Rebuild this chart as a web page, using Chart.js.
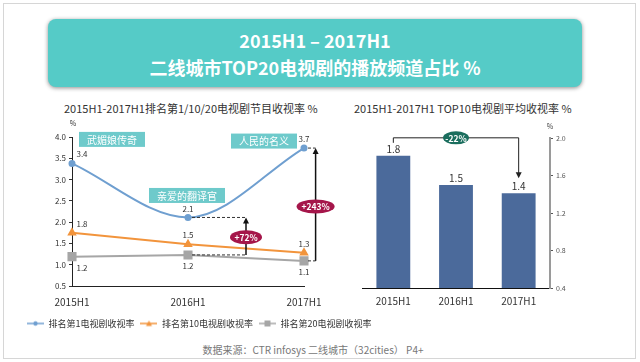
<!DOCTYPE html>
<html>
<head>
<meta charset="utf-8">
<script src="https://cdn.jsdelivr.net/npm/chart.js@4.4.0/dist/chart.umd.min.js"></script>
<style>
  body { margin: 0; width: 640px; height: 362px; background: #fff; overflow: hidden; position: relative;
         font-family: "Noto Sans CJK SC", "Noto Sans", sans-serif; }
  .frame { position: absolute; left: 3px; top: 3px; width: 631px; height: 354px; border: 1px solid #d6d6d6; }
  .banner { position: absolute; left: 48px; top: 19px; width: 534px; height: 68px; background: #55cbc7;
            border-radius: 8px; box-shadow: 0 1px 4px rgba(0,0,0,.45); color: #fff; font-weight: bold;
            font-size: 18px; line-height: 27px; text-align: center; padding-top: 8px; box-sizing: border-box; }
  .title { position: absolute; font-size: 11px; color: #333; white-space: nowrap; }
  .source { position: absolute; left: 0; width: 626px; top: 342px; text-align: center; font-size: 10px; color: #777; }
  canvas { position: absolute; }
</style>
</head>
<body>
<div class="frame"></div>
<div class="banner">2015H1 – 2017H1<br>二线城市TOP20电视剧的播放频道占比 %</div>
<div class="title" style="left:64px;top:100px">2015H1-2017H1排名第1/10/20电视剧节目收视率 %</div>
<div class="title" style="left:354px;top:100px">2015H1-2017H1 TOP10电视剧平均收视率 %</div>
<div class="source">数据来源：CTR infosys 二线城市（32cities） P4+</div>
<canvas id="lineChart" width="400" height="228" style="left:0;top:112px"></canvas>
<canvas id="barChart" width="300" height="200" style="left:340px;top:112px"></canvas>
<script>
const periods = ["2015H1", "2016H1", "2017H1"];
const top1Rating = [3.38, 2.11, 3.74];
const top10Rating = [1.75, 1.48, 1.28];
const top20Rating = [1.19, 1.23, 1.09];
const seriesNames = ["排名第1电视剧收视率", "排名第10电视剧收视率", "排名第20电视剧收视率"];
const dramaNames = ["武媚娘传奇", "亲爱的翻译官", "人民的名义"];
const growthLabels = ["+72%", "+243%"];
const top10Average = [1.81, 1.5, 1.41];
const averageChange = "-22%";

const FONT = '"Noto Sans CJK SC", "Noto Sans", sans-serif';
const colors = ["#6f9fd0", "#f2943c", "#a6a6a6"];

function legendIcon(color, style) {
    const c = document.createElement("canvas");
    c.width = 17;
    c.height = 8;
    const g = c.getContext("2d");
    g.strokeStyle = color;
    g.fillStyle = color;
    g.lineWidth = 1.5;
    g.beginPath();
    g.moveTo(0, 4);
    g.lineTo(17, 4);
    g.stroke();
    g.beginPath();
    if (style === "circle") g.arc(8.5, 4, 2.2, 0, Math.PI * 2);
    else if (style === "triangle") { g.moveTo(8.5, 1); g.lineTo(11.5, 6.5); g.lineTo(5.5, 6.5); g.closePath(); }
    else g.rect(5.5, 1, 6, 6);
    g.fill();
    return c;
}
const legendIcons = [
    legendIcon(colors[0], "circle"),
    legendIcon(colors[1], "triangle"),
    legendIcon(colors[2], "rect"),
];

function ellipseLabel(ctx, cx, cy, rx, ry, fill, text) {
    ctx.save();
    ctx.fillStyle = fill;
    ctx.beginPath();
    ctx.ellipse(cx, cy, rx, ry, 0, 0, Math.PI * 2);
    ctx.fill();
    ctx.fillStyle = "#fff";
    ctx.font = "bold 8.5px " + FONT;
    ctx.textAlign = "center";
    ctx.textBaseline = "middle";
    ctx.fillText(text, cx, cy + 0.5);
    ctx.restore();
}

function arrowUp(ctx, x, y0, y1) {
    ctx.save();
    ctx.strokeStyle = "#111";
    ctx.fillStyle = "#111";
    ctx.lineWidth = 1.5;
    ctx.beginPath();
    ctx.moveTo(x, y0);
    ctx.lineTo(x, y1 + 4);
    ctx.stroke();
    ctx.beginPath();
    ctx.moveTo(x, y1);
    ctx.lineTo(x + 3, y1 + 6);
    ctx.lineTo(x - 3, y1 + 6);
    ctx.closePath();
    ctx.fill();
    ctx.restore();
}

const lineAnnotations = {
    id: "lineAnnotations",
    afterDatasetsDraw(chart) {
        const { ctx, scales: { x, y } } = chart;
        const pts = [0, 1, 2].map((i) => chart.getDatasetMeta(i).data);
        const series = [top1Rating, top10Rating, top20Rating];
        ctx.save();

        // value labels
        ctx.font = "8px " + FONT;
        ctx.fillStyle = "#333";
        ctx.textAlign = "center";
        ctx.textBaseline = "middle";
        series.forEach((vals, s) => {
            vals.forEach((v, i) => {
                const p = pts[s][i];
                const dx = i === 0 ? 10 : 0;
                const dy = s === 2 ? 11 : -9;
                ctx.fillText(v.toFixed(1), p.x + dx, p.y + dy);
            });
        });

        // drama name boxes on the top series
        const boxOffsets = [[40, -24], [-1, -22], [-40, -7]];
        ctx.font = "10px " + FONT;
        dramaNames.forEach((name, i) => {
            const p = pts[0][i];
            const w = ctx.measureText(name).width + 16;
            const cx = p.x + boxOffsets[i][0];
            const cy = p.y + boxOffsets[i][1];
            ctx.fillStyle = "#6ecacb";
            ctx.fillRect(cx - w / 2, cy - 7.5, w, 15);
            ctx.fillStyle = "#fff";
            ctx.fillText(name, cx, cy + 0.5);
        });

        // dashed guides
        const xa = x.getPixelForValue(1.5);
        const xb = x.getPixelForValue(2.1);
        ctx.strokeStyle = "#333";
        ctx.lineWidth = 1;
        ctx.setLineDash([3, 2]);
        [[pts[0][1], xa], [pts[2][1], xa], [pts[0][2], xb], [pts[2][2], xb]].forEach(([p, xe]) => {
            ctx.beginPath();
            ctx.moveTo(p.x + 4, p.y);
            ctx.lineTo(xe, p.y);
            ctx.stroke();
        });
        ctx.setLineDash([]);

        arrowUp(ctx, xa, pts[2][1].y, pts[0][1].y);
        arrowUp(ctx, xb, pts[2][2].y, pts[0][2].y);
        ellipseLabel(ctx, xa, (pts[2][1].y + pts[0][1].y) / 2 + 1, 16, 7, "#a5164a", growthLabels[0]);
        ellipseLabel(ctx, xb, (pts[2][2].y + pts[0][2].y) / 2 + 2, 19, 7, "#a5164a", growthLabels[1]);

        // unit
        ctx.font = "7px " + FONT;
        ctx.fillStyle = "#333";
        ctx.fillText("%", y.right + 1, y.top - 14);
        ctx.restore();
    },
};

new Chart(document.getElementById("lineChart"), {
    type: "line",
    data: {
        labels: periods,
        datasets: [
            {
                label: seriesNames[0],
                data: top1Rating,
                borderColor: colors[0],
                backgroundColor: colors[0],
                borderWidth: 2,
                pointStyle: "circle",
                pointRadius: 2.5,
                cubicInterpolationMode: "monotone",
                clip: false,
            },
            {
                label: seriesNames[1],
                data: top10Rating,
                borderColor: colors[1],
                backgroundColor: colors[1],
                borderWidth: 2,
                pointStyle: "triangle",
                pointRadius: 3.5,
                tension: 0,
                clip: false,
            },
            {
                label: seriesNames[2],
                data: top20Rating,
                borderColor: colors[2],
                backgroundColor: colors[2],
                borderWidth: 2,
                pointStyle: "rect",
                pointRadius: 5,
                tension: 0,
                clip: false,
            },
        ],
    },
    options: {
        responsive: false,
        animation: false,
        layout: { padding: { left: 21, right: 0, top: 25, bottom: 2 } },
        scales: {
            x: {
                offset: false,
                grid: { display: false, drawTicks: false },
                border: { display: true, color: "#222", width: 1 },
                ticks: { color: "#333", font: { size: 10, family: FONT }, padding: 10, maxRotation: 0 },
                afterFit: (scale) => { scale.height = 27; },
            },
            y: {
                min: 0.5,
                max: 4.0,
                ticks: {
                    stepSize: 0.5,
                    color: "#333",
                    padding: 3,
                    font: { size: 8, family: FONT },
                    callback: (v) => v.toFixed(1),
                },
                grid: { drawOnChartArea: false, tickLength: 3, color: "#333" },
                border: { display: true, color: "#222", width: 1 },
                afterFit: (scale) => { scale.width = 51; },
            },
            // empty right-hand axis that only reserves room for the growth arrows
            room: {
                position: "right",
                grid: { display: false },
                border: { display: false },
                ticks: { display: false },
                afterFit: (scale) => { scale.width = 96; },
            },
        },
        plugins: {
            tooltip: { enabled: false },
            legend: {
                position: "bottom",
                align: "start",
                labels: {
                    usePointStyle: true,
                    pointStyleWidth: 17,
                    padding: 6,
                    color: "#333",
                    font: { size: 9, family: FONT },
                    generateLabels: (chart) =>
                        Chart.defaults.plugins.legend.labels.generateLabels(chart).map((item, i) => {
                            item.pointStyle = legendIcons[i];
                            return item;
                        }),
                },
            },
        },
    },
    plugins: [lineAnnotations],
});

const barAnnotations = {
    id: "barAnnotations",
    afterDatasetsDraw(chart) {
        const { ctx, scales: { y } } = chart;
        const bars = chart.getDatasetMeta(0).data;
        ctx.save();
        ctx.font = "10px " + FONT;
        ctx.fillStyle = "#333";
        ctx.textAlign = "center";
        ctx.textBaseline = "middle";
        bars.forEach((b, i) => ctx.fillText(top10Average[i].toFixed(1), b.x, b.y - 7));

        const first = bars[0];
        const last = bars[bars.length - 1];
        const by = first.y - 18;
        const tip = last.y - 15;
        ctx.strokeStyle = "#222";
        ctx.fillStyle = "#222";
        ctx.lineWidth = 1;
        ctx.beginPath();
        ctx.moveTo(first.x, by + 5);
        ctx.lineTo(first.x, by);
        ctx.lineTo(last.x, by);
        ctx.lineTo(last.x, tip - 5);
        ctx.stroke();
        ctx.beginPath();
        ctx.moveTo(last.x, tip);
        ctx.lineTo(last.x - 3, tip - 6);
        ctx.lineTo(last.x + 3, tip - 6);
        ctx.closePath();
        ctx.fill();
        ellipseLabel(ctx, (first.x + last.x) / 2, by, 13, 6.5, "#1b6e5e", averageChange);

        ctx.font = "7px " + FONT;
        ctx.fillStyle = "#444";
        ctx.fillText("%", y.left, y.top - 12);
        ctx.restore();
    },
};

new Chart(document.getElementById("barChart"), {
    type: "bar",
    data: {
        labels: periods,
        datasets: [
            {
                data: top10Average,
                backgroundColor: "#4b6a9b",
                barPercentage: 0.54,
                categoryPercentage: 1,
            },
        ],
    },
    options: {
        responsive: false,
        animation: false,
        layout: { padding: { left: 22, right: 60, top: 26, bottom: 4 } },
        scales: {
            x: {
                grid: { display: false, drawTicks: false },
                border: { display: true, color: "#111", width: 1 },
                ticks: { color: "#333", font: { size: 10, family: FONT }, padding: 7 },
                afterFit: (scale) => { scale.height = 20; },
            },
            y: {
                position: "right",
                min: 0.4,
                max: 2.0,
                ticks: {
                    stepSize: 0.4,
                    color: "#555",
                    padding: 3,
                    font: { size: 7, family: FONT },
                    callback: (v) => v.toFixed(1),
                },
                grid: { drawOnChartArea: false, tickLength: 3, color: "#555" },
                border: { display: true, color: "#9a9a9a", width: 2 },
                afterFit: (scale) => { scale.width = 30; },
            },
        },
        plugins: {
            legend: { display: false },
            tooltip: { enabled: false },
        },
    },
    plugins: [barAnnotations],
});
</script>
</body>
</html>
